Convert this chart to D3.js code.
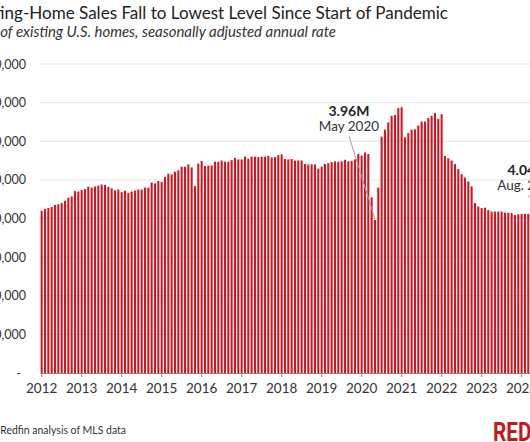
<!DOCTYPE html>
<html><head><meta charset="utf-8">
<script src="https://cdn.jsdelivr.net/npm/d3@7"></script>
<style>body{margin:0;background:#fff}svg{display:block}</style>
</head><body>
<svg id="chart" width="530" height="442"></svg>
<script>
// ---- data ----
const years = [2012,2013,2014,2015,2016,2017,2018,2019,2020,2021,2022,2023,2024];
const sales2012 = [4.20,4.25,4.27,4.30,4.35,4.37,4.40,4.46,4.54,4.57,4.71,4.70];
const sales2013 = [4.74,4.76,4.82,4.80,4.83,4.85,4.88,4.87,4.82,4.78,4.73,4.75];
const sales2014 = [4.68,4.72,4.66,4.70,4.72,4.75,4.75,4.80,4.80,4.93,4.91,4.97];
const sales2015 = [4.95,5.07,5.16,5.14,5.21,5.25,5.34,5.34,5.40,5.32,4.84,5.42];
const sales2016 = [5.49,5.36,5.37,5.37,5.47,5.47,5.50,5.47,5.47,5.51,5.57,5.53];
const sales2017 = [5.53,5.60,5.55,5.60,5.60,5.59,5.60,5.60,5.62,5.58,5.59,5.64];
const sales2018 = [5.66,5.54,5.53,5.54,5.50,5.50,5.50,5.41,5.40,5.40,5.40,5.29];
const sales2019 = [5.34,5.41,5.43,5.46,5.48,5.47,5.48,5.52,5.48,5.49,5.53,5.67];
const sales2020 = [5.63,5.71,5.67,4.55,3.96,4.80,6.12,6.30,6.49,6.66,6.68,6.86];
const sales2021 = [6.88,6.10,6.21,6.30,6.31,6.41,6.51,6.51,6.60,6.66,6.73,6.58];
const sales2022 = [6.70,5.62,5.56,5.50,5.41,5.28,5.15,5.06,4.96,4.83,4.40,4.31];
const sales2023 = [4.27,4.28,4.22,4.18,4.18,4.18,4.18,4.15,4.15,4.14,4.09,4.11];
const sales2024 = [4.12,4.12,4.12,4.10,4.11,4.09,4.07,4.04];
const salesMillions = [].concat(sales2012,sales2013,sales2014,sales2015,sales2016,sales2017,
  sales2018,sales2019,sales2020,sales2021,sales2022,sales2023,sales2024);
const yTickValues = [0,1000000,2000000,3000000,4000000,5000000,6000000,7000000,8000000];
const titleText = "Existing-Home Sales Fall to Lowest Level Since Start of Pandemic";
const subtitleText = "Sales of existing U.S. homes, seasonally adjusted annual rate";
const sourceText = "Source: Redfin analysis of MLS data";
const annotations = [
  {index: 100, value: "3.96M", label: "May 2020", dx: -26, ty: 116, lineTop: 136},
  {index: 151, value: "4.04M", label: "Aug. 2024", dx: -17, ty: 175, lineTop: 195}
];

// ---- chart ----
const svg = d3.select("#chart");
const data = salesMillions.map((v, i) => ({i, v: v * 1e6}));
const step = 3.333;
const x = d3.scaleBand().domain(data.map(d => d.i))
  .range([40, 40 + step * data.length]).paddingInner(0.38).paddingOuter(0.19);
const y = d3.scaleLinear().domain([0, 8000000]).range([373, 64]);
const red = "#d4151f";

// gridlines
svg.append("g").selectAll("line").data(yTickValues.filter(d => d > 0)).join("line")
  .attr("x1", 40).attr("x2", 530)
  .attr("y1", d => y(d)).attr("y2", d => y(d))
  .attr("stroke", "#e3e3e3").attr("stroke-width", 1);

// y axis labels
const yAxis = svg.append("g").attr("transform", "translate(26,0)")
  .call(d3.axisLeft(y).tickValues(yTickValues).tickSize(0).tickPadding(0)
    .tickFormat(d => d === 0 ? "-" : d3.format(",")(d)));
yAxis.select(".domain").remove();
yAxis.selectAll("text").attr("font-family", "Lato, sans-serif").attr("font-size", 12.5)
  .attr("fill", "#333").attr("dx", d => d === 0 ? -5 : 0);

// bars
svg.append("g").selectAll("rect").data(data).join("rect")
  .attr("x", d => x(d.i)).attr("width", x.bandwidth())
  .attr("y", d => y(d.v)).attr("height", d => y(0) - y(d.v))
  .attr("fill", red);

// x axis
const xAxis = svg.append("g").attr("transform", `translate(0,${y(0)})`)
  .call(d3.axisBottom(x).tickValues(years.map((yr, k) => k * 12))
    .tickFormat(i => years[i / 12]).tickSize(4).tickSizeOuter(0).tickPadding(6));
xAxis.select(".domain").attr("stroke", "#8a8a8a");
xAxis.selectAll(".tick line").attr("stroke", "#8a8a8a");
xAxis.selectAll("text").attr("font-family", "Lato, sans-serif").attr("font-size", 13.5)
  .attr("fill", "#333");

// annotations
const xc = i => x(i) + x.bandwidth() / 2;
annotations.forEach(a => {
  const d = data[a.index];
  const cx = xc(a.index) + a.dx;
  svg.append("line").attr("x1", cx).attr("y1", a.lineTop)
    .attr("x2", xc(a.index)).attr("y2", y(d.v) - 1)
    .attr("stroke", "#a0a0a0").attr("stroke-width", 1);
  svg.append("text").attr("x", cx).attr("y", a.ty).attr("text-anchor", "middle")
    .attr("font-family", "Lato, sans-serif").attr("font-weight", 700).attr("font-size", 14)
    .attr("fill", "#222").text(a.value);
  svg.append("text").attr("x", cx).attr("y", a.ty + 15).attr("text-anchor", "middle")
    .attr("font-family", "Lato, sans-serif").attr("font-size", 13.5)
    .attr("fill", "#333").text(a.label);
});

// helper: fit text so that the visible tail (after a cut) spans to endX
function fitText(sel, full, visiblePart, endX, baseSize) {
  sel.attr("font-size", baseSize).text(visiblePart);
  const w = sel.node().getComputedTextLength();
  const size = baseSize * endX / w;
  sel.attr("font-size", size).attr("text-anchor", "end").attr("x", endX).text(full);
}

// title
fitText(svg.append("text").attr("y", 19).attr("font-family", "Lato, sans-serif")
  .attr("font-weight", 400).attr("fill", "#222"),
  titleText, "ing-Home Sales Fall to Lowest Level Since Start of Pandemic", 448, 18);
// subtitle
fitText(svg.append("text").attr("y", 37).attr("font-family", "Lato, sans-serif")
  .attr("font-style", "italic").attr("fill", "#333"),
  subtitleText, " of existing U.S. homes, seasonally adjusted annual rate", 336, 14);
// source
fitText(svg.append("text").attr("y", 434).attr("font-family", "Lato, sans-serif")
  .attr("fill", "#333"),
  sourceText, " Redfin analysis of MLS data", 126, 11.5);

// logo
svg.append("text").attr("transform", "translate(493,441) scale(0.8,1)")
  .attr("font-family", "Roboto, sans-serif").attr("font-weight", 700)
  .attr("font-size", 26).attr("fill", "#c8161d").text("REDFIN");
</script>
</body></html>
